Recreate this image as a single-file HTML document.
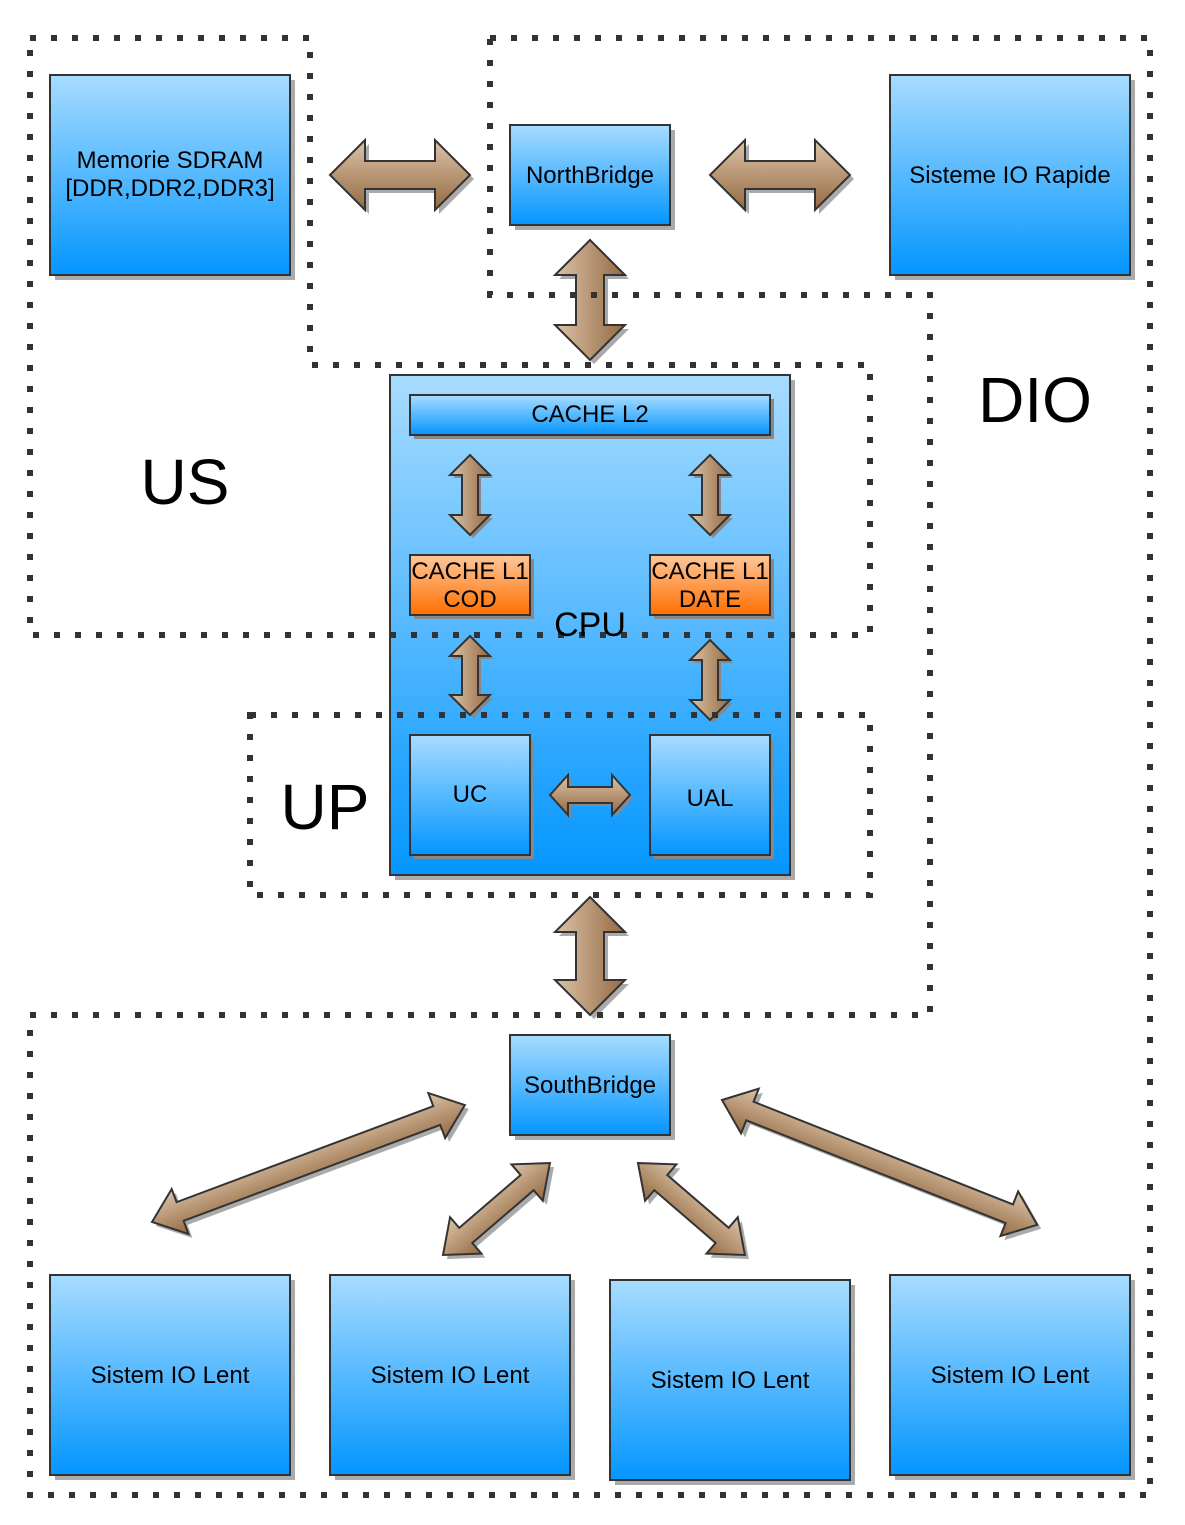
<!DOCTYPE html>
<html><head><meta charset="utf-8"><style>html,body{margin:0;padding:0;background:#fff}svg{display:block}</style></head><body>
<svg width="1185" height="1525" viewBox="0 0 1185 1525" xmlns="http://www.w3.org/2000/svg" font-family="Liberation Sans, sans-serif">
<defs>
<linearGradient id="bl" x1="0" y1="0" x2="0" y2="1"><stop offset="0" stop-color="#a8dcff"/><stop offset="1" stop-color="#0496ff"/></linearGradient>
<linearGradient id="or" x1="0" y1="0" x2="0" y2="1"><stop offset="0" stop-color="#ffc79a"/><stop offset="1" stop-color="#ff6f00"/></linearGradient>
<linearGradient id="br" x1="0" y1="0" x2="0" y2="1"><stop offset="0" stop-color="#dcc3a8"/><stop offset="1" stop-color="#946a42"/></linearGradient>
<linearGradient id="brv" x1="0" y1="0" x2="1" y2="0"><stop offset="0" stop-color="#dcc3a8"/><stop offset="1" stop-color="#946a42"/></linearGradient>
</defs>
<g stroke="#333" stroke-width="2">
<rect x="55" y="80" width="240" height="200" fill="#aaa" stroke="none"/><rect x="50" y="75" width="240" height="200" fill="url(#bl)"/>
<rect x="515" y="130" width="160" height="100" fill="#aaa" stroke="none"/><rect x="510" y="125" width="160" height="100" fill="url(#bl)"/>
<rect x="895" y="80" width="240" height="200" fill="#aaa" stroke="none"/><rect x="890" y="75" width="240" height="200" fill="url(#bl)"/>
<rect x="395" y="380" width="400" height="500" fill="#aaa" stroke="none"/><rect x="390" y="375" width="400" height="500" fill="url(#bl)"/>
<rect x="414" y="399" width="360" height="40" fill="#888" stroke="none"/><rect x="410" y="395" width="360" height="40" fill="url(#bl)"/>
<rect x="414" y="559" width="120" height="60" fill="#888" stroke="none"/><rect x="410" y="555" width="120" height="60" fill="url(#or)"/>
<rect x="654" y="559" width="120" height="60" fill="#888" stroke="none"/><rect x="650" y="555" width="120" height="60" fill="url(#or)"/>
<rect x="414" y="739" width="120" height="120" fill="#888" stroke="none"/><rect x="410" y="735" width="120" height="120" fill="url(#bl)"/>
<rect x="654" y="739" width="120" height="120" fill="#888" stroke="none"/><rect x="650" y="735" width="120" height="120" fill="url(#bl)"/>
<rect x="515" y="1040" width="160" height="100" fill="#aaa" stroke="none"/><rect x="510" y="1035" width="160" height="100" fill="url(#bl)"/>
<rect x="55" y="1280" width="240" height="200" fill="#aaa" stroke="none"/><rect x="50" y="1275" width="240" height="200" fill="url(#bl)"/>
<rect x="335" y="1280" width="240" height="200" fill="#aaa" stroke="none"/><rect x="330" y="1275" width="240" height="200" fill="url(#bl)"/>
<rect x="615" y="1285" width="240" height="200" fill="#aaa" stroke="none"/><rect x="610" y="1280" width="240" height="200" fill="url(#bl)"/>
<rect x="895" y="1280" width="240" height="200" fill="#aaa" stroke="none"/><rect x="890" y="1275" width="240" height="200" fill="url(#bl)"/>
</g>
<g stroke="#333" stroke-width="2">
<g transform="translate(330,175)"><polygon transform="translate(4,4)" fill="#aaa" stroke="none" points="0,0 35,-35 35,-14 105,-14 105,-35 140,0 105,35 105,14 35,14 35,35"/><polygon fill="url(#br)" points="0,0 35,-35 35,-14 105,-14 105,-35 140,0 105,35 105,14 35,14 35,35"/></g>
<g transform="translate(710,175)"><polygon transform="translate(4,4)" fill="#aaa" stroke="none" points="0,0 35,-35 35,-14 105,-14 105,-35 140,0 105,35 105,14 35,14 35,35"/><polygon fill="url(#br)" points="0,0 35,-35 35,-14 105,-14 105,-35 140,0 105,35 105,14 35,14 35,35"/></g>
<g transform="translate(590,240)"><polygon transform="translate(4,4)" fill="#aaa" stroke="none" points="0,0 35,35 14,35 14,85 35,85 0,120 -35,85 -14,85 -14,35 -35,35"/><polygon fill="url(#brv)" points="0,0 35,35 14,35 14,85 35,85 0,120 -35,85 -14,85 -14,35 -35,35"/></g>
<g transform="translate(590,897)"><polygon transform="translate(4,4)" fill="#aaa" stroke="none" points="0,0 35,35 14,35 14,83 35,83 0,118 -35,83 -14,83 -14,35 -35,35"/><polygon fill="url(#brv)" points="0,0 35,35 14,35 14,83 35,83 0,118 -35,83 -14,83 -14,35 -35,35"/></g>
<g transform="translate(470,455)"><polygon transform="translate(3,3)" fill="#888" stroke="none" points="0,0 20,20 8,20 8,60 20,60 0,80 -20,60 -8,60 -8,20 -20,20"/><polygon fill="url(#brv)" points="0,0 20,20 8,20 8,60 20,60 0,80 -20,60 -8,60 -8,20 -20,20"/></g>
<g transform="translate(710,455)"><polygon transform="translate(3,3)" fill="#888" stroke="none" points="0,0 20,20 8,20 8,60 20,60 0,80 -20,60 -8,60 -8,20 -20,20"/><polygon fill="url(#brv)" points="0,0 20,20 8,20 8,60 20,60 0,80 -20,60 -8,60 -8,20 -20,20"/></g>
<g transform="translate(470,636)"><polygon transform="translate(3,3)" fill="#888" stroke="none" points="0,0 20,20 8,20 8,59 20,59 0,79 -20,59 -8,59 -8,20 -20,20"/><polygon fill="url(#brv)" points="0,0 20,20 8,20 8,59 20,59 0,79 -20,59 -8,59 -8,20 -20,20"/></g>
<g transform="translate(710,640)"><polygon transform="translate(3,3)" fill="#888" stroke="none" points="0,0 20,20 8,20 8,60 20,60 0,80 -20,60 -8,60 -8,20 -20,20"/><polygon fill="url(#brv)" points="0,0 20,20 8,20 8,60 20,60 0,80 -20,60 -8,60 -8,20 -20,20"/></g>
<g transform="translate(550,795)"><polygon transform="translate(3,3)" fill="#888" stroke="none" points="0,0 18,-20 18,-8 62,-8 62,-20 80,0 62,20 62,8 18,8 18,20"/><polygon fill="url(#br)" points="0,0 18,-20 18,-8 62,-8 62,-20 80,0 62,20 62,8 18,8 18,20"/></g>
<g transform="translate(152,1222) rotate(-20.5)"><polygon transform="rotate(20.5) translate(4,4) rotate(-20.5)" fill="#aaa" stroke="none" points="0,0 30,-24 30,-10 304,-10 304,-24 334,0 304,24 304,10 30,10 30,24"/><polygon fill="url(#br)" points="0,0 30,-24 30,-10 304,-10 304,-24 334,0 304,24 304,10 30,10 30,24"/></g>
<g transform="translate(443,1255) rotate(-40.7)"><polygon transform="rotate(40.7) translate(4,4) rotate(-40.7)" fill="#aaa" stroke="none" points="0,0 30,-24 30,-10 111,-10 111,-24 141,0 111,24 111,10 30,10 30,24"/><polygon fill="url(#br)" points="0,0 30,-24 30,-10 111,-10 111,-24 141,0 111,24 111,10 30,10 30,24"/></g>
<g transform="translate(638,1163) rotate(40.7)"><polygon transform="rotate(-40.7) translate(4,4) rotate(40.7)" fill="#aaa" stroke="none" points="0,0 30,-24 30,-10 111,-10 111,-24 141,0 111,24 111,10 30,10 30,24"/><polygon fill="url(#br)" points="0,0 30,-24 30,-10 111,-10 111,-24 141,0 111,24 111,10 30,10 30,24"/></g>
<g transform="translate(722,1100) rotate(21.6)"><polygon transform="rotate(-21.6) translate(4,4) rotate(21.6)" fill="#aaa" stroke="none" points="0,0 30,-24 30,-10 309,-10 309,-24 339,0 309,24 309,10 30,10 30,24"/><polygon fill="url(#br)" points="0,0 30,-24 30,-10 309,-10 309,-24 339,0 309,24 309,10 30,10 30,24"/></g>
</g>
<g fill="none" stroke="#333" stroke-width="6" stroke-dasharray="6 15">
<path d="M30,38 H310 V365 H870 V635 H30 Z"/>
<path d="M490,38 H1150 V1495 H30 V1015 H930 V295 H490 Z"/>
<rect x="250" y="715" width="620" height="180"/>
</g>
<g font-size="24" fill="#000" text-anchor="middle">
<text x="170" y="168">Memorie SDRAM</text><text x="170" y="196">[DDR,DDR2,DDR3]</text>
<text x="590" y="183">NorthBridge</text>
<text x="1010" y="183">Sisteme IO Rapide</text>
<text x="590" y="422">CACHE L2</text>
<text x="470" y="579">CACHE L1</text><text x="470" y="607">COD</text>
<text x="710" y="579">CACHE L1</text><text x="710" y="607">DATE</text>
<text x="470" y="802">UC</text><text x="710" y="806">UAL</text>
<text x="590" y="1093">SouthBridge</text>
<text x="170" y="1383">Sistem IO Lent</text><text x="450" y="1383">Sistem IO Lent</text>
<text x="730" y="1388">Sistem IO Lent</text><text x="1010" y="1383">Sistem IO Lent</text>
<text x="590" y="636" font-size="34">CPU</text>
<text x="185" y="504" font-size="64">US</text>
<text x="1035" y="422" font-size="64">DIO</text>
<text x="325" y="829" font-size="64">UP</text>
</g>
</svg>
</body></html>
